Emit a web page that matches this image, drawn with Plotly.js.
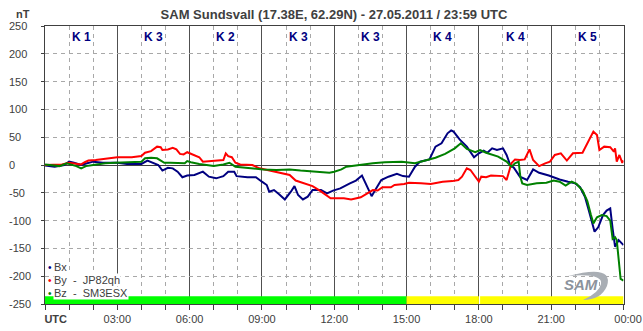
<!DOCTYPE html>
<html>
<head>
<meta charset="utf-8">
<script src="https://cdn.plot.ly/plotly-3.0.1.min.js"></script>
<style>html,body{margin:0;padding:0;background:#fff;}#chart{width:643px;height:331px;}</style>
</head>
<body>
<div id="chart"></div>
<script>
// ---- data (hours UTC, nT) ----
const bxHours = [0,0.4,0.8,1.0,1.2,1.5,1.75,2.0,2.4,3.0,3.4,4.0,4.25,4.5,4.7,4.87,5.1,5.3,5.5,5.7,5.9,6.2,6.55,6.8,7.1,7.4,7.6,7.85,7.95,8.4,8.75,9.0,9.2,9.3,9.5,9.7,9.95,10.2,10.35,10.5,10.7,10.9,11.1,11.45,11.7,11.95,12.25,12.65,12.9,13.15,13.35,13.55,13.7,13.95,14.25,14.6,14.85,15.1,15.35,15.56,15.95,16.2,16.45,16.7,16.85,16.95,17.2,17.5,17.8,18.0,18.2,18.35,18.55,18.75,19.0,19.15,19.3,19.45,19.7,20.0,20.25,20.5,20.9,21.35,21.7,22.0,22.2,22.4,22.55,22.7,22.8,22.95,23.15,23.3,23.45,23.55,23.65,23.8,23.93,24.0];
const bxValues = [-1,-3,0,6,4,0,3,6,4,4,2,2,8,3,0,-10,-5,-6,-12,-22,-19,-18,-12,-21,-24,-20,-12,-12,-20,-22,-22,-30,-36,-48,-45,-52,-62,-48,-38,-54,-62,-57,-45,-45,-51,-46,-42,-33,-28,-19,-38,-56,-45,-27,-21,-16,-20,-21,-3,6,10,33,39,57,62,60,46,33,14,21,26,22,30,27,30,18,0,-5,-21,-27,-8,-14,-19,-26,-30,-33,-40,-57,-80,-105,-120,-112,-90,-82,-78,-115,-147,-135,-140,-144];

const byHours = [0,0.7,1.0,1.3,1.5,1.65,1.8,2.1,2.3,2.6,2.8,3.0,3.6,4.0,4.15,4.4,4.65,4.8,4.87,5.1,5.3,5.45,5.6,5.75,5.9,6.0,6.2,6.4,6.55,7.0,7.4,7.5,7.6,7.75,7.9,8.1,8.6,8.9,9.3,9.75,10.15,10.4,10.7,11.1,11.4,11.7,11.85,12.4,12.7,13.1,13.4,13.6,13.8,14.0,14.35,14.5,14.9,15.1,15.6,16.0,16.5,16.9,17.15,17.3,17.5,17.65,17.8,18.0,18.1,18.3,18.5,19.0,19.15,19.35,19.5,19.7,19.9,20.1,20.25,20.5,20.75,20.95,21.15,21.4,21.65,21.9,22.3,22.5,22.75,22.9,23.0,23.2,23.45,23.6,23.65,23.72,23.83,23.95,24.0];
const byValues = [0,1,4,2,1,5,8,9,10,12,13,14,14,16,22,25,33,32,27,28,31,28,20,19,23,21,17,14,6,8,9,21,16,14,4,1,0,-6,-10,-15,-18,-28,-32,-38,-46,-56,-60,-60,-62,-58,-51,-45,-46,-40,-40,-36,-34,-32,-33,-34,-30,-29,-27,-21,-6,-9,-18,-30,-21,-22,-19,-20,-27,3,10,9,10,28,9,-2,3,6,18,21,8,21,22,39,60,54,27,33,32,24,30,6,18,4,8];

const bzHours = [0,0.3,0.6,0.9,1.1,1.3,1.5,1.7,2.0,2.5,2.9,3.5,4.0,4.15,4.4,4.65,4.8,4.95,5.2,5.5,5.8,5.9,6.05,6.4,7.0,7.4,7.65,7.9,8.5,9.05,9.6,10.15,10.6,11.1,11.8,12.0,12.3,12.5,12.8,13.2,13.6,14.1,14.8,15.35,15.8,16.2,16.6,17.0,17.25,17.5,17.85,18.05,18.3,18.55,18.8,19.15,19.35,19.5,19.65,19.72,19.8,20.0,20.4,20.8,21.1,21.35,21.6,21.85,22.05,22.3,22.5,22.65,22.75,22.9,23.1,23.3,23.45,23.55,23.65,23.72,23.8,23.88,24.0];
const bzValues = [1,0,-2,3,1,-2,-6,-2,0,3,4,5,6,12,13,12,8,4,4,4,3,7,5,2,-2,1,4,-3,-6,-8,-9,-8,-10,-12,-14,-12,-8,-3,-1,1,3,5,6,3,8,13,20,30,39,29,23,27,22,18,15,6,-3,3,6,-21,-33,-36,-33,-32,-28,-30,-37,-30,-34,-46,-65,-90,-105,-94,-90,-92,-100,-133,-130,-135,-170,-205,-208];

const seriesNames = ['Bx', 'By  -  JP82qh', 'Bz  -  SM3ESX'];
const kLabels = ['K 1','K 3','K 2','K 3','K 3','K 4','K 4','K 5'];
const xTickVals = [0,3,6,9,12,15,18,21,24];
const xTickText = ['UTC','03:00','06:00','09:00','12:00','15:00','18:00','21:00','00:00'];
const yTickVals = [250,200,150,100,50,0,-50,-100,-150,-200,-250];
const activityStart = [0,15,18];
const activityEnd = [15,18,24];
const activityLevel = ['quiet','active','active'];

// ---- styling ----
const W = 643, H = 331, PT = 26, PB = 304;
const colors = ['#000080', '#ff0000', '#008000'];
const levelColor = {quiet:'#00ff00', active:'#ffff00'};
const txt = '#404040';
const FONT = 'Liberation Sans, Arial, sans-serif';
const px2x = p => p / W;
const py2y = p => (PB - p) / (PB - PT);
const nb = n => '\u00a0'.repeat(n);

const xs = [bxHours, byHours, bzHours];
const ys = [bxValues, byValues, bzValues];
const traces = xs.map((x, i) => ({
  type: 'scatter', mode: 'lines', x: x, y: ys[i], name: seriesNames[i],
  line: {color: colors[i], width: 2}, hoverinfo: 'skip', showlegend: false
}));

const tickText = xTickText.map((t, i) => {
  if (i === 0) return nb(7) + '<b>' + t + '</b>';
  if (i === xTickText.length - 1) return nb(3) + t;
  return t;
});

const annotations = [];
// y tick labels, left aligned
yTickVals.forEach(v => annotations.push({
  xref: 'paper', yref: 'y', x: px2x(7), y: v, xanchor: 'left', yanchor: 'middle',
  text: String(v), showarrow: false, font: {size: 11, color: txt, family: FONT}
}));
// unit
annotations.push({xref:'paper', yref:'paper', x: px2x(14), y: py2y(14), xanchor:'left', yanchor:'middle',
  text:'<b>nT</b>', showarrow:false, font:{size:11, color:txt, family:FONT}});
// K index labels
kLabels.forEach((k, i) => annotations.push({
  xref: 'x', yref: 'paper', x: i * 3 + 1.5, y: py2y(37), xanchor: 'center', yanchor: 'middle',
  text: '<b>' + k + '</b>', showarrow: false, font: {size: 12, color: '#000080', family: FONT}
}));
// legend
const legRows = [267, 280, 293];
seriesNames.forEach((n, i) => {
  annotations.push({xref:'paper', yref:'paper', x: px2x(53), y: py2y(legRows[i]), xanchor:'left', yanchor:'middle',
    text: n.replace(/ /g, '\u00a0'), showarrow:false, bgcolor:'#ffffff', borderpad:0,
    font:{size:11, color:txt, family:FONT}});
  annotations.push({xref:'paper', yref:'paper', x: px2x(50), y: py2y(legRows[i]), xanchor:'center', yanchor:'middle',
    text:'\u2022', showarrow:false, font:{size:10, color:colors[i], family:FONT}});
});
// logo
annotations.push({xref:'paper', yref:'paper', x: px2x(581), y: py2y(284), xanchor:'center', yanchor:'middle',
  text:'<b><i>SAM</i></b>', showarrow:false, font:{size:15, color:'#8c939c', family:FONT}});

const shapes = activityStart.map((s, i) => ({
  type: 'rect', xref: 'x', yref: 'y', x0: s + (i === 2 ? 0.05 : 0), x1: activityEnd[i], y0: -250, y1: -236,
  fillcolor: levelColor[activityLevel[i]], line: {width: 0}, layer: 'between'
}));
// logo swoosh
const P = (x, y) => px2x(x).toFixed(4) + ',' + py2y(y).toFixed(4);
shapes.push({type:'path', xref:'paper', yref:'paper', layer:'above',
  path: 'M' + P(568,276) + ' Q' + P(614,264) + ' ' + P(607,286) + ' Q' + P(601,300) + ' ' + P(583,300) +
        ' Q' + P(599,293) + ' ' + P(601,284) + ' Q' + P(603,273) + ' ' + P(568,276) + ' Z',
  fillcolor:'#a9aeb4', line:{width:0}});

const layout = {
  width: W, height: H,
  margin: {l: 0, r: 0, t: PT, b: H - PB, pad: 0},
  paper_bgcolor: '#ffffff', plot_bgcolor: '#ffffff',
  font: {family: FONT, size: 11, color: txt},
  showlegend: false,
  title: {text: '<b>SAM Sundsvall (17.38E, 62.29N) - 27.05.2011 / 23:59 UTC</b>',
    font: {size: 13, color: txt, family: FONT}, x: px2x(334), xref: 'paper', xanchor: 'center',
    y: 1 - 14 / H, yref: 'container', yanchor: 'middle'},
  xaxis: {
    domain: [45 / W, 623.5 / W], range: [0, 24], fixedrange: true,
    tickmode: 'array', tickvals: xTickVals, ticktext: tickText, tickangle: 0,
    ticks: 'outside', ticklen: 5, tickcolor: txt, tickfont: {size: 11, color: txt, family: FONT},
    showgrid: true, gridcolor: '#505050', gridwidth: 1,
    minor: {dtick: 1, tick0: 0, ticks: 'outside', ticklen: 5, tickcolor: txt, showgrid: true,
      gridcolor: '#a8a8a8', griddash: '4px,4px', gridwidth: 1},
    showline: true, mirror: true, linecolor: txt, linewidth: 1, zeroline: false
  },
  yaxis: {
    range: [-250, 250], fixedrange: true, tickmode: 'linear', tick0: 0, dtick: 50,
    showticklabels: false, ticks: 'outside', ticklen: 3, tickcolor: txt,
    showgrid: true, gridcolor: '#a8a8a8', griddash: '4px,4px', gridwidth: 1,
    zeroline: true, zerolinecolor: txt, zerolinewidth: 1,
    showline: true, mirror: true, linecolor: txt, linewidth: 1
  },
  annotations: annotations,
  shapes: shapes
};

Plotly.newPlot('chart', traces, layout, {staticPlot: true, displayModeBar: false});
</script>
</body>
</html>
